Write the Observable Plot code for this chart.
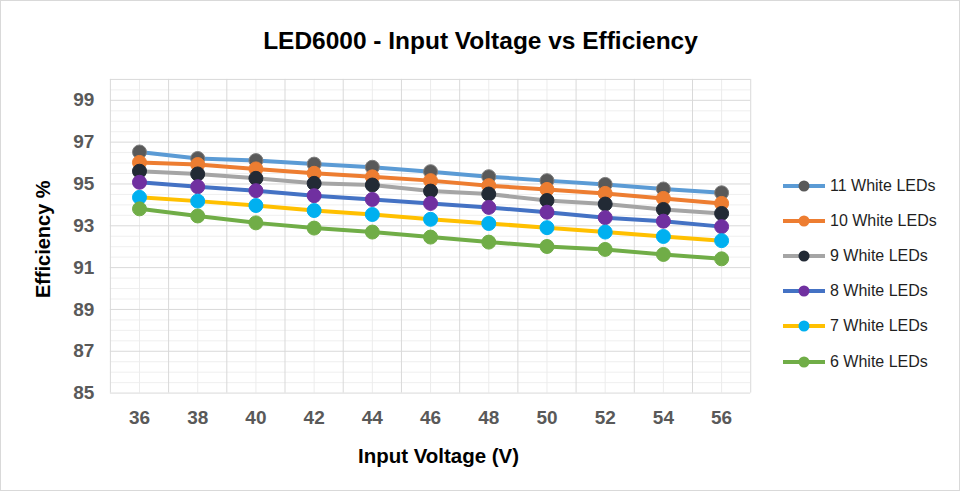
<!DOCTYPE html>
<html>
<head>
<meta charset="utf-8">
<script src="https://cdn.jsdelivr.net/npm/d3@7"></script>
<script src="https://cdn.jsdelivr.net/npm/@observablehq/plot@0.6"></script>
<style>
  html, body { margin: 0; padding: 0; background: #fff; }
  #wrap { position: relative; width: 960px; height: 491px; box-sizing: border-box; border: 1px solid #d9d9d9; overflow: hidden; }
  #chart { position: absolute; left: -1px; top: -1px; }
  #legend { position: absolute; left: 781px; top: 167px; font-family: "Liberation Sans", Arial, sans-serif; font-size: 16px; color: #1f1f1f; }
  .item { display: flex; align-items: center; height: 35.2px; }
  .item svg { display: block; margin-right: 4px; }
</style>
</head>
<body>
<div id="wrap"><div id="chart"></div><div id="legend"></div></div>
<script>
const voltages = [36, 38, 40, 42, 44, 46, 48, 50, 52, 54, 56];
const seriesNames = ["11 White LEDs", "10 White LEDs", "9 White LEDs", "8 White LEDs", "7 White LEDs", "6 White LEDs"];
const eff11 = [96.53, 96.22, 96.12, 95.95, 95.80, 95.59, 95.35, 95.16, 94.98, 94.76, 94.58];
const eff10 = [96.03, 95.93, 95.72, 95.51, 95.34, 95.16, 94.92, 94.74, 94.55, 94.31, 94.07];
const eff9  = [95.61, 95.48, 95.27, 95.03, 94.95, 94.66, 94.52, 94.21, 94.04, 93.78, 93.59];
const eff8  = [95.08, 94.87, 94.68, 94.44, 94.26, 94.07, 93.88, 93.65, 93.39, 93.22, 92.96];
const eff7  = [94.36, 94.18, 93.97, 93.73, 93.54, 93.31, 93.11, 92.91, 92.70, 92.49, 92.29];
const eff6  = [93.81, 93.47, 93.14, 92.89, 92.70, 92.46, 92.22, 92.01, 91.87, 91.63, 91.42];
const seriesValues = [eff11, eff10, eff9, eff8, eff7, eff6];
const lineColors   = ["#5b9bd5", "#ed7d31", "#a5a5a5", "#4472c4", "#ffc000", "#70ad47"];
const markerColors = ["#595959", "#ed7d31", "#222a35", "#7030a0", "#00b0f0", "#70ad47"];
const yTicks = [85, 87, 89, 91, 93, 95, 97, 99];
const yMinorGrid = [85.5, 86, 86.5, 87.5, 88, 88.5, 89.5, 90, 90.5, 91.5, 92, 92.5, 93.5, 94, 94.5, 95.5, 96, 96.5, 97.5, 98, 98.5, 99.5];
const yMajorGrid = [85, 87, 89, 91, 93, 95, 97, 99, 100];
const xMajorGrid = [35, 37, 39, 41, 43, 45, 47, 49, 51, 53, 55, 57];
const titleText = "LED6000 - Input Voltage vs Efficiency";
const xTitle = "Input Voltage (V)";
const yTitle = "Efficiency %";

const rows = [];
seriesNames.forEach((s, i) => voltages.forEach((v, j) => rows.push({series: s, idx: i, v, e: seriesValues[i][j]})));

const font = '"Liberation Sans", Arial, sans-serif';
const marks = [
  Plot.ruleY(yMinorGrid, {stroke: "#efefef", strokeWidth: 1}),
  Plot.ruleX(voltages, {stroke: "#ececec", strokeWidth: 1}),
  Plot.ruleY(yMajorGrid, {stroke: "#d9d9d9", strokeWidth: 1}),
  Plot.ruleX(xMajorGrid, {stroke: "#d9d9d9", strokeWidth: 1}),
  Plot.axisY({ticks: yTicks, tickSize: 0, tickPadding: 16, label: null, fontSize: 19, fontWeight: "bold", fill: "#595959"}),
  Plot.axisX({ticks: voltages, tickSize: 0, tickPadding: 17, label: null, fontSize: 19, fontWeight: "bold", fill: "#595959", tickFormat: d => String(d)}),
];
seriesNames.forEach((s, i) => {
  const d = rows.filter(r => r.idx === i);
  marks.push(Plot.line(d, {x: "v", y: "e", stroke: lineColors[i], strokeWidth: 4, curve: "linear"}));
  marks.push(Plot.dot(d, {x: "v", y: "e", r: 7, fill: markerColors[i], stroke: i === 0 ? "#7f7f7f" : markerColors[i], strokeWidth: 1}));
});
marks.push(Plot.text([titleText], {frameAnchor: "top", dx: 50, dy: -38, text: d => d, fontSize: 24.5, fontWeight: "bold", fill: "#000", lineAnchor: "middle", textAnchor: "middle"}));
marks.push(Plot.text([xTitle], {frameAnchor: "bottom", dx: 8, dy: 63, text: d => d, fontSize: 20.5, fontWeight: "bold", fill: "#000", lineAnchor: "middle", textAnchor: "middle"}));
marks.push(Plot.text([yTitle], {frameAnchor: "left", dx: -67, dy: 3, rotate: -90, text: d => d, fontSize: 20, fontWeight: "bold", fill: "#000", lineAnchor: "middle", textAnchor: "middle"}));

const chart = Plot.plot({
  width: 960,
  height: 491,
  marginLeft: 110,
  marginRight: 209,
  marginTop: 79,
  marginBottom: 98,
  style: {fontFamily: font, background: "transparent", overflow: "visible"},
  x: {domain: [35, 57], type: "linear"},
  y: {domain: [85, 100]},
  marks
});
document.getElementById("chart").appendChild(chart);

const legend = document.getElementById("legend");
seriesNames.forEach((s, i) => {
  const item = document.createElement("div");
  item.className = "item";
  item.innerHTML = `<svg width="44" height="14"><line x1="1" y1="7" x2="43" y2="7" stroke="${lineColors[i]}" stroke-width="4"/><circle cx="22" cy="7" r="5.5" fill="${markerColors[i]}"/></svg><span>${s}</span>`;
  legend.appendChild(item);
});
</script>
</body>
</html>
